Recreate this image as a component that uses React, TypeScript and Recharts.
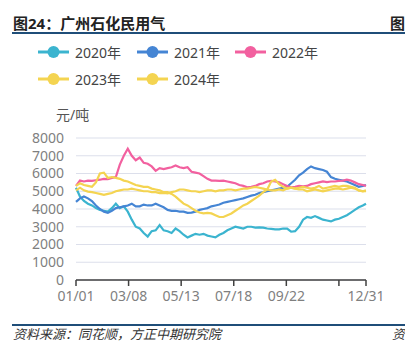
import { LineChart, Line, XAxis, YAxis, CartesianGrid } from 'recharts'

// day of year, sampled every 5 days, last point 12/31
const days = [...Array.from({ length: 73 }, (_, i) => i * 5), 364]

const xTicks = [0, 66, 132, 198, 264, 330, 364]
const xTickLabels = ['01/01', '03/08', '05/13', '07/18', '09/22', '', '12/31']
const yTicks = [0, 1000, 2000, 3000, 4000, 5000, 6000, 7000, 8000]

const s2020 = [
  5200, 4700, 4450, 4300, 4200, 4050, 3950, 3900, 3850, 4050,
  4300, 4050, 4150, 3850, 3400, 3000, 2900, 2650, 2450, 2750,
  2800, 3100, 2800, 2750, 2650, 2900, 2750, 2550, 2400, 2500,
  2600, 2550, 2600, 2500, 2450, 2400, 2550, 2650, 2800, 2900,
  3000, 2950, 2900, 3000, 3000, 2950, 2970, 2950, 2900, 2880,
  2850, 2850, 2900, 2900, 2720, 2750, 3000, 3400, 3550, 3500,
  3600, 3500, 3400, 3350, 3300, 3400, 3450, 3550, 3650, 3800,
  3950, 4100, 4200, 4300,
]
const s2021 = [
  4400, 4600, 4700, 4600, 4450, 4200, 4000, 3850, 3780, 3900,
  4050, 4100, 4150, 4200, 4300, 4150, 4150, 4250, 4200, 4200,
  4300, 4200, 4100, 3950, 3900, 3900, 3850, 3850, 3780, 3800,
  3850, 3950, 4000, 4050, 4150, 4200, 4250, 4350, 4400, 4450,
  4500, 4550, 4600, 4680, 4750, 4800, 4900, 4950, 5000, 5050,
  5100, 5150, 5200, 5250, 5450, 5650, 5900, 6050, 6250, 6400,
  6300, 6250, 6200, 6100, 5800, 5700, 5650, 5600, 5550, 5450,
  5350, 5250, 5300, 5350,
]
const s2022 = [
  5300, 5600, 5550, 5600, 5580, 5620, 5650, 5700, 5680, 5750,
  5800, 6500, 7000, 7400, 7000, 6750, 6900, 6600, 6550, 6400,
  6150, 6300, 6250, 6300, 6350, 6450, 6350, 6300, 6350, 6100,
  6050, 6000, 5850, 5700, 5600, 5600, 5580, 5600, 5550, 5500,
  5450, 5350, 5300, 5220, 5250, 5300, 5400, 5450, 5550, 5580,
  5550, 5500, 5400, 5300, 5220, 5250, 5300, 5280, 5300, 5400,
  5450, 5500, 5550, 5520, 5550, 5550, 5580, 5600, 5650, 5600,
  5500, 5400, 5350, 5300,
]
const s2023 = [
  5050, 5200, 5050, 4980, 4950, 4900, 4850, 4800, 4850, 4900,
  5000, 5050, 5100, 5100, 5150, 5100, 5050, 5000, 5000, 4950,
  4950, 4900, 4900, 4880, 4950, 5000, 5100, 5100, 5050, 5000,
  5000, 4950, 5000, 5050, 5050, 5000, 5050, 5050, 5100, 5100,
  5050, 5100, 5150, 5150, 5200, 5250, 5200, 5150, 5100, 5050,
  5050, 5100, 5050, 5150, 5200, 5150, 5100, 5100, 5000, 5050,
  5100, 5050, 5000, 5050, 5100, 5150, 5150, 5100, 5150, 5200,
  5150, 5050, 5000, 5050,
]
const s2024 = [
  5300, 5450, 5350, 5300, 5250, 5500, 6000, 6050, 5750, 5800,
  5750, 5700, 5600, 5550, 5450, 5350, 5300, 5250, 5250, 5150,
  5100, 5050, 4950, 4950, 4850, 4700, 4500, 4300, 4200, 4050,
  3900, 3800, 3750, 3780, 3750, 3650, 3550, 3550, 3650, 3750,
  3900, 4050, 4200, 4300, 4450, 4600, 4750, 4950, 5100, 5550,
  5650, 5400, 5250, 5150, 5200, 5150, 5200, 5250, 5200, 5150,
  5200, 5300, 5150, 5200, 5250, 5300, 5250, 5300, 5300, 5250,
  5200, 5050, 5000, 5000,
]

const series = [
  { key: 'y2020', name: '2020年', color: '#3bb4cf', values: s2020 },
  { key: 'y2021', name: '2021年', color: '#4585d4', values: s2021 },
  { key: 'y2022', name: '2022年', color: '#f2609f', values: s2022 },
  { key: 'y2023', name: '2023年', color: '#f4d451', values: s2023 },
  { key: 'y2024', name: '2024年', color: '#f4d451', values: s2024 },
]

const rows = days.map((d, i) => {
  const r: Record<string, number> = { day: d }
  series.forEach(s => { r[s.key] = s.values[i] })
  return r
})

const FONT = '"Noto Sans", "Noto Sans CJK SC", sans-serif'

function LegendItem({ name, color, x, y }: { name: string; color: string; x: number; y: number }) {
  return (
    <div style={{ position: 'absolute', left: x, top: y - 10, height: 20, display: 'flex', alignItems: 'center' }}>
      <svg width={31} height={14} style={{ marginRight: 6 }}>
        <line x1={0} y1={7} x2={31} y2={7} stroke={color} strokeWidth={3} />
        <circle cx={15.5} cy={7} r={6} fill={color} />
      </svg>
      <span style={{ fontSize: 14, color: '#444' }}>{name}</span>
    </div>
  )
}

export default function App() {
  const legendPos = [
    [38, 52], [137, 52], [235, 52], [38, 79], [137, 79],
  ]
  return (
    <div style={{ position: 'absolute', left: 0, top: 0, width: 405, height: 352, background: '#fff', fontFamily: FONT, overflow: 'hidden' }}>
      <div style={{ position: 'absolute', left: 13, top: 12, fontSize: 15, fontWeight: 700, color: '#222' }}>图24：广州石化民用气</div>
      <div style={{ position: 'absolute', left: 390, top: 12, fontSize: 15, fontWeight: 700, color: '#222' }}>图</div>
      <div style={{ position: 'absolute', left: 12, top: 32, width: 393, height: 2, background: '#1f4e79' }} />

      {series.map((s, i) => (
        <LegendItem key={s.key} name={s.name} color={s.color} x={legendPos[i][0]} y={legendPos[i][1]} />
      ))}

      <div style={{ position: 'absolute', left: 56, top: 104, fontSize: 14, color: '#555' }}>元/吨</div>

      <div style={{ position: 'absolute', left: 0, top: 0 }}>
        <LineChart width={405} height={352} data={rows} margin={{ top: 138, right: 39, bottom: 42, left: 0 }}>
          <CartesianGrid vertical={false} stroke="#dcdfeb" strokeWidth={1.2} />
          <XAxis
            dataKey="day"
            type="number"
            domain={[0, 364]}
            ticks={xTicks}
            tickFormatter={(v: number) => xTickLabels[xTicks.indexOf(v)] ?? ''}
            interval={0}
            height={30}
            tickSize={6}
            tickMargin={5}
            axisLine={{ stroke: '#404040', strokeWidth: 1.5 }}
            tickLine={{ stroke: '#404040', strokeWidth: 1.5 }}
            tick={{ fill: '#7f7f7f', fontSize: 14, fontFamily: FONT }}
          />
          <YAxis
            domain={[0, 8000]}
            ticks={yTicks}
            interval={0}
            width={76}
            axisLine={false}
            tickLine={false}
            tickSize={0}
            tickMargin={12}
            tick={{ fill: '#7f7f7f', fontSize: 14, fontFamily: FONT }}
          />
          {series.map(s => (
            <Line
              key={s.key}
              dataKey={s.key}
              name={s.name}
              type="linear"
              stroke={s.color}
              strokeWidth={2.2}
              dot={false}
              isAnimationActive={false}
            />
          ))}
        </LineChart>
      </div>

      <div style={{ position: 'absolute', left: 12, top: 324, width: 393, height: 2, background: '#1f4e79' }} />
      <div style={{ position: 'absolute', left: 13, top: 324, fontSize: 13, fontStyle: 'italic', color: '#333' }}>资料来源：同花顺，方正中期研究院</div>
      <div style={{ position: 'absolute', left: 392, top: 324, fontSize: 13, fontStyle: 'italic', color: '#333' }}>资</div>
    </div>
  )
}
